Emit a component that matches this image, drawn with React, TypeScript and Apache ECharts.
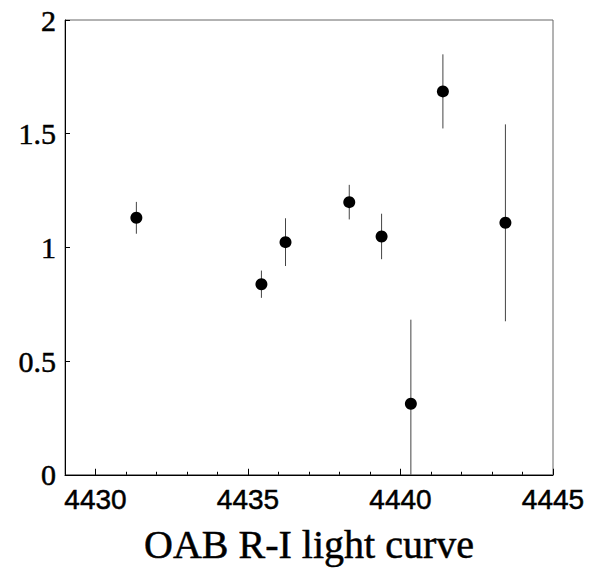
import React, { useEffect, useRef } from "react";
import * as echarts from "echarts";

const dates = [4431.34, 4435.44, 4436.23, 4438.32, 4439.38, 4440.34, 4441.39, 4443.44];
const values = [1.13, 0.838, 1.023, 1.199, 1.048, 0.312, 1.686, 1.108];
const errors = [0.07, 0.06, 0.105, 0.076, 0.1, 0.37, 0.163, 0.433];
const majorXTicks = [4430, 4435, 4440, 4445];
const titleText = "OAB R-I light curve";

export default function App() {
  const ref = useRef<HTMLDivElement>(null);
  useEffect(() => {
    if (!ref.current) return;
    const chart = echarts.init(ref.current, null, { renderer: "svg" });
    const serif = "Liberation Serif";
    const sans = "Liberation Sans";
    const heavy = { textBorderColor: "#000", textBorderWidth: 0.5 };
    const points = dates.map((d, i) => [d, values[i]]);
    const bars = dates.map((d, i) => [d, values[i] - errors[i], values[i] + errors[i]]);
    chart.setOption({
      animation: false,
      backgroundColor: "#fff",
      grid: {
        left: 65,
        top: 20,
        right: 37,
        bottom: 95,
        show: true,
        borderColor: "#666",
        borderWidth: 1,
      },
      xAxis: [
        {
          type: "value",
          min: 4429,
          max: 4445,
          interval: 1,
          position: "bottom",
          axisLine: { show: true, onZero: false, lineStyle: { color: "#000", width: 1 } },
          axisTick: { show: true, inside: true, length: 3, lineStyle: { color: "#000" } },
          axisLabel: {
            show: true,
            margin: 11,
            fontFamily: sans,
            fontSize: 28,
            color: "#000",
            ...heavy,
            formatter: (v: number) => (majorXTicks.includes(Math.round(v)) ? String(Math.round(v)) : ""),
          },
          splitLine: { show: false },
          name: titleText,
          nameLocation: "middle",
          nameGap: 50,
          nameTextStyle: { fontFamily: serif, fontSize: 40, color: "#000", ...heavy },
        },
        {
          type: "value",
          min: 4429,
          max: 4445,
          position: "bottom",
          offset: 0,
          axisLine: { show: false, onZero: false },
          axisTick: {
            show: true,
            inside: true,
            length: 6,
            customValues: majorXTicks,
            lineStyle: { color: "#000" },
          },
          axisLabel: { show: false },
          splitLine: { show: false },
        },
      ],
      yAxis: {
        type: "value",
        min: 0,
        max: 2,
        interval: 0.5,
        axisLine: { show: true, onZero: false, lineStyle: { color: "#000", width: 1 } },
        axisTick: { show: true, inside: true, length: 5, lineStyle: { color: "#000" } },
        axisLabel: {
          margin: 9,
          fontFamily: serif,
          fontSize: 30,
          color: "#000",
          ...heavy,
        },
        splitLine: { show: false },
      },
      series: [
        {
          type: "custom",
          clip: true,
          data: bars,
          renderItem: (params: any, api: any) => {
            const x = api.value(0);
            const lo = api.coord([x, api.value(1)]);
            const hi = api.coord([x, api.value(2)]);
            return {
              type: "line",
              shape: { x1: lo[0], y1: lo[1], x2: hi[0], y2: hi[1] },
              style: { stroke: "#444", lineWidth: 1 },
            };
          },
          z: 1,
        },
        {
          type: "scatter",
          data: points,
          symbol: "circle",
          symbolSize: 12,
          itemStyle: { color: "#000", opacity: 1 },
          z: 2,
        },
      ],
    });
    return () => chart.dispose();
  }, []);
  return (
    <div
      ref={ref}
      style={{ position: "fixed", left: 0, top: 0, width: 590, height: 570 }}
    />
  );
}
